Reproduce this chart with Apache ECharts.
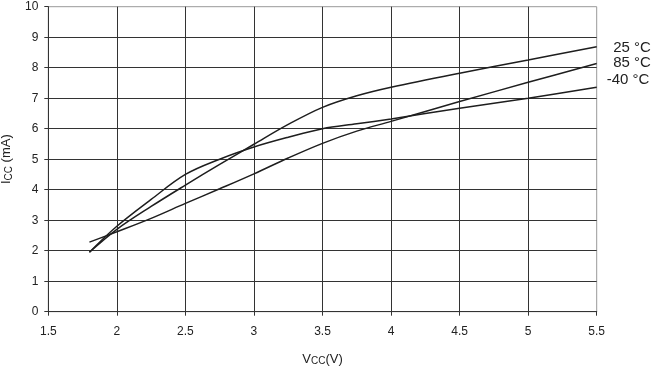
<!DOCTYPE html>
<html>
<head>
<meta charset="utf-8">
<script src="https://cdn.jsdelivr.net/npm/echarts@6/dist/echarts.min.js"></script>
<style>html,body{margin:0;padding:0;background:#fff}#c{width:654px;height:367px}</style>
</head>
<body>
<div id="c"></div>
<script>
const vcc = [1.8, 2.0, 2.25, 2.5, 2.75, 3.0, 3.25, 3.5, 3.75, 4.0, 4.5, 5.0, 5.5];
const icc25 = [1.95, 2.70, 3.45, 4.15, 4.83, 5.49, 6.14, 6.70, 7.08, 7.36, 7.82, 8.25, 8.69];
const icc85 = [2.28, 2.62, 3.06, 3.55, 4.03, 4.52, 5.04, 5.52, 5.92, 6.24, 6.89, 7.52, 8.14];
const iccM40 = [1.95, 2.80, 3.68, 4.50, 5.00, 5.40, 5.72, 6.00, 6.16, 6.32, 6.67, 7.00, 7.36];
const seriesNames = ['25 °C', '85 °C', '-40 °C'];
const xTicks = { min: 1.5, max: 5.5, interval: 0.5 };
const yTicks = { min: 0, max: 10, interval: 1 };

const font = 'Liberation Sans, Arial, sans-serif';
const chart = echarts.init(document.getElementById('c'), null, { renderer: 'canvas' });
const pair = (ys) => vcc.map((x, i) => [x, ys[i]]);
const labelOffsets = [[16.5, 1], [16.5, -0.5], [10, -7.3]];
const mk = (name, ys, k) => ({
  type: 'line', name, data: pair(ys), smooth: 0.35, symbol: 'none',
  lineStyle: { color: '#1e1e1e', width: 1.5 },
  endLabel: { show: true, formatter: '{a}', distance: 0, offset: labelOffsets[k],
    color: '#222', fontFamily: font, fontSize: 15 },
  animation: false
});
chart.setOption({
  animation: false,
  grid: { left: 48.3, right: 57.3, top: 6.7, bottom: 55.3, containLabel: false, outerBoundsMode: 'none',
    show: true, borderColor: '#999', borderWidth: 1, backgroundColor: 'transparent' },
  xAxis: {
    type: 'value', min: xTicks.min, max: xTicks.max, interval: xTicks.interval,
    name: '{v|V}{s|CC}{v|(V)}', nameLocation: 'middle', nameGap: 40,
    nameTextStyle: { rich: { v: { fontFamily: font, fontSize: 13, color: '#222' }, s: { fontFamily: font, fontSize: 10, color: '#222', verticalAlign: 'bottom', padding: [5, 0, 0, 0] } } },
    axisLine: { show: true, lineStyle: { color: '#333', width: 1 } },
    axisTick: { show: true, length: 4, lineStyle: { color: '#333' } },
    axisLabel: { margin: 14, fontFamily: font, fontSize: 12, color: '#222' },
    splitLine: { show: true, showMinLine: false, showMaxLine: false, lineStyle: { color: '#333', width: 1 } }
  },
  yAxis: {
    type: 'value', min: yTicks.min, max: yTicks.max, interval: yTicks.interval,
    name: '{v|I}{s|CC}{v| (mA)}', nameLocation: 'middle', nameGap: 33, nameRotate: 90,
    nameTextStyle: { rich: { v: { fontFamily: font, fontSize: 13, color: '#222' }, s: { fontFamily: font, fontSize: 10, color: '#222', verticalAlign: 'bottom', padding: [5, 0, 0, 0] } } },
    axisLine: { show: true, lineStyle: { color: '#333', width: 1 } },
    axisTick: { show: true, length: 4, lineStyle: { color: '#333' } },
    axisLabel: { margin: 10, fontFamily: font, fontSize: 12, color: '#222' },
    splitLine: { show: true, showMinLine: false, showMaxLine: false, lineStyle: { color: '#333', width: 1 } }
  },
  series: [mk(seriesNames[0], icc25, 0), mk(seriesNames[1], icc85, 1), mk(seriesNames[2], iccM40, 2)]
});
</script>
</body>
</html>
